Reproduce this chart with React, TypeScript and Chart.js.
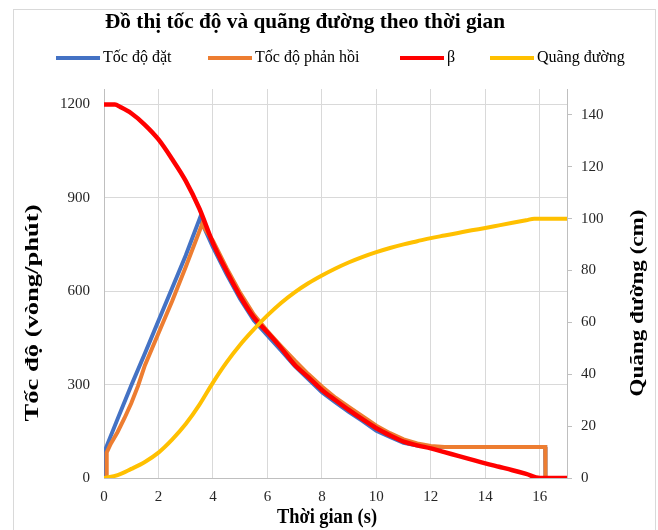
import React, { useEffect, useRef } from 'react';
import { Chart, registerables } from 'chart.js';

Chart.register(...registerables);

const TITLE = 'Đồ thị tốc độ và quãng đường theo thời gian';
const X_TITLE = 'Thời gian (s)';
const Y_TITLE = 'Tốc độ (vòng/phút)';
const Y2_TITLE = 'Quãng đường (cm)';
const SERIES_NAMES = ['Tốc độ đặt', 'Tốc độ phản hồi', 'β', 'Quãng đường'];
const SERIES_COLORS = ['#4472C4', '#ED7D31', '#FF0000', '#FFC000'];

// Tốc độ đặt (vòng/phút)
const setTime = [0, 0.05, 0.5, 1, 1.5, 2, 2.5, 3, 3.52, 4, 4.5, 5, 5.5, 6, 6.5, 7, 7.5, 8, 8.5, 9, 9.5, 10, 10.5, 11, 11.5, 12, 13, 14, 15, 16, 16.2, 16.21];
const setSpeed = [0, 92, 190, 297, 400, 505, 610, 715, 835, 742, 655, 575, 507, 458, 410, 360, 318, 276, 243, 212, 183, 152, 132, 113, 104, 100, 100, 100, 100, 100, 100, 0];

// Tốc độ phản hồi (vòng/phút)
const fbTime = [0, 0.08, 0.1, 0.25, 0.5, 0.75, 1, 1.25, 1.5, 2, 2.5, 3, 3.6, 4, 4.5, 5, 5.5, 6, 6.5, 7, 7.5, 8, 8.5, 9, 9.5, 10, 10.5, 11, 11.5, 12, 12.5, 13, 14, 15, 16, 16.2, 16.21];
const fbSpeed = [0, 0, 82, 110, 148, 192, 240, 296, 362, 465, 568, 678, 815, 762, 675, 595, 525, 472, 424, 378, 334, 294, 258, 228, 198, 168, 144, 124, 111, 103, 100, 100, 100, 100, 100, 100, 0];

// β
const betaTime = [0, 0.4, 0.6, 1, 1.5, 2, 2.5, 3, 3.5, 4, 4.5, 5, 5.5, 6, 6.5, 7, 7.5, 8, 8.5, 9, 9.5, 10, 10.5, 11, 11.5, 12, 12.5, 13, 13.5, 14, 14.5, 15, 15.5, 16, 17];
const betaValue = [1200, 1200, 1192, 1172, 1135, 1088, 1025, 955, 866, 755, 665, 584, 516, 468, 418, 364, 324, 283, 250, 218, 188, 160, 137, 117, 105, 95, 83, 71, 59, 47, 36, 25, 13, 0, 0];

// Quãng đường (cm)
const distTime = [0, 0.5, 1, 1.5, 2, 2.5, 3, 3.5, 4, 4.5, 5, 5.5, 6, 6.5, 7, 7.5, 8, 8.5, 9, 9.5, 10, 10.5, 11, 11.5, 12, 12.5, 13, 13.5, 14, 14.5, 15, 15.5, 15.8, 17];
const distValue = [0, 1.1, 3.5, 6.2, 9.8, 14.8, 20.8, 28.2, 36.8, 44.6, 51.4, 57.3, 62.7, 67.5, 71.6, 75.1, 78.1, 80.8, 83.2, 85.3, 87.1, 88.7, 90.1, 91.3, 92.5, 93.5, 94.5, 95.5, 96.4, 97.4, 98.4, 99.4, 100, 100];

const xTicks = [0, 2, 4, 6, 8, 10, 12, 14, 16];
const leftTicks = [0, 300, 600, 900, 1200];
const rightTicks = [0, 20, 40, 60, 80, 100, 120, 140];

const SERIF = "'Liberation Serif', 'Times New Roman', serif";
const GRID = '#D9D9D9';
const AXIS = '#BFBFBF';
const TICK_COLOR = '#262626';

const pts = (t: number[], v: number[]) => t.map((x, i) => ({ x, y: v[i] }));

function drawText(
  ctx: CanvasRenderingContext2D,
  text: string,
  x: number,
  y: number,
  font: string,
  opts: { targetWidth?: number; rotate?: number; align?: CanvasTextAlign; color?: string } = {}
) {
  ctx.save();
  ctx.font = font;
  const w = ctx.measureText(text).width;
  const sx = opts.targetWidth ? opts.targetWidth / w : 1;
  ctx.translate(x, y);
  if (opts.rotate) ctx.rotate(opts.rotate);
  ctx.scale(sx, 1);
  ctx.textAlign = opts.align || 'center';
  ctx.textBaseline = 'middle';
  ctx.fillStyle = opts.color || '#000';
  ctx.fillText(text, 0, 0);
  ctx.restore();
}

const decor = {
  id: 'decor',
  beforeDraw(chart: any) {
    const ctx = chart.ctx as CanvasRenderingContext2D;
    ctx.save();
    ctx.strokeStyle = GRID;
    ctx.lineWidth = 1;
    ctx.strokeRect(13.5, 9.5, 642, 540);
    ctx.restore();
  },
  afterDraw(chart: any) {
    const ctx = chart.ctx as CanvasRenderingContext2D;
    drawText(ctx, TITLE, 305, 23, `bold 21px ${SERIF}`, { targetWidth: 400 });
    const legendX = [56, 208, 400, 490];
    const legendY = 58;
    SERIES_NAMES.forEach((name, i) => {
      const x = legendX[i];
      ctx.save();
      ctx.strokeStyle = SERIES_COLORS[i];
      ctx.lineWidth = 4;
      ctx.beginPath();
      ctx.moveTo(x, legendY);
      ctx.lineTo(x + 44, legendY);
      ctx.stroke();
      ctx.restore();
      drawText(ctx, name, x + 47, legendY, `16px ${SERIF}`, { align: 'left', color: '#000' });
    });
    drawText(ctx, X_TITLE, 327, 518, `bold 21px ${SERIF}`, { targetWidth: 100 });
    drawText(ctx, Y_TITLE, 33, 313, `bold 18px ${SERIF}`, { targetWidth: 217, rotate: -Math.PI / 2 });
    drawText(ctx, Y2_TITLE, 638, 303, `bold 18px ${SERIF}`, { targetWidth: 187, rotate: -Math.PI / 2 });
  },
};

export default function App() {
  const ref = useRef<HTMLCanvasElement>(null);
  useEffect(() => {
    const canvas = ref.current!;
    const lineBase = { pointRadius: 0, borderWidth: 4, fill: false };
    const chart = new Chart(canvas, {
      type: 'line',
      data: {
        datasets: [
          { ...lineBase, label: SERIES_NAMES[0], data: pts(setTime, setSpeed), borderColor: SERIES_COLORS[0], backgroundColor: SERIES_COLORS[0], yAxisID: 'y', order: 3, tension: 0 },
          { ...lineBase, label: SERIES_NAMES[1], data: pts(fbTime, fbSpeed), borderColor: SERIES_COLORS[1], backgroundColor: SERIES_COLORS[1], yAxisID: 'y', order: 2, tension: 0 },
          { ...lineBase, label: SERIES_NAMES[2], data: pts(betaTime, betaValue), borderColor: SERIES_COLORS[2], backgroundColor: SERIES_COLORS[2], yAxisID: 'y', order: 1, cubicInterpolationMode: 'monotone', borderWidth: 4.5 },
          { ...lineBase, label: SERIES_NAMES[3], data: pts(distTime, distValue), borderColor: SERIES_COLORS[3], backgroundColor: SERIES_COLORS[3], yAxisID: 'y1', order: 0, cubicInterpolationMode: 'monotone' },
        ] as any,
      },
      options: {
        responsive: false,
        animation: false,
        devicePixelRatio: 1,
        layout: { padding: { top: 89, left: 0, right: 0, bottom: 0 } },
        plugins: { legend: { display: false }, title: { display: false }, tooltip: { enabled: false } },
        scales: {
          x: {
            type: 'linear',
            min: 0,
            max: 17,
            afterBuildTicks: (s: any) => { s.ticks = xTicks.map((v) => ({ value: v })); },
            afterFit: (s: any) => { s.height = 52; },
            ticks: { font: { family: SERIF, size: 15 }, color: TICK_COLOR, padding: 10, autoSkip: false, maxRotation: 0, callback: (v: any) => String(v) },
            grid: { color: GRID, lineWidth: 1, drawTicks: false },
            border: { color: AXIS, width: 1 },
          },
          y: {
            type: 'linear',
            position: 'left',
            min: 0,
            max: 1250,
            afterBuildTicks: (s: any) => { s.ticks = leftTicks.map((v) => ({ value: v })); },
            afterFit: (s: any) => { s.width = 104; },
            ticks: { font: { family: SERIF, size: 15 }, color: TICK_COLOR, padding: 14, callback: (v: any) => String(v) },
            grid: { color: GRID, lineWidth: 1, drawTicks: false },
            border: { color: AXIS, width: 1 },
          },
          y1: {
            type: 'linear',
            position: 'right',
            min: 0,
            max: 150,
            afterBuildTicks: (s: any) => { s.ticks = rightTicks.map((v) => ({ value: v })); },
            afterFit: (s: any) => { s.width = 91; },
            ticks: { font: { family: SERIF, size: 15 }, color: TICK_COLOR, padding: 9, callback: (v: any) => String(v) },
            grid: { drawOnChartArea: false, drawTicks: true, tickLength: 5, color: AXIS, tickColor: AXIS },
            border: { color: AXIS, width: 1 },
          },
        },
      } as any,
      plugins: [decor],
    });
    return () => chart.destroy();
  }, []);
  return (
    <div style={{ position: 'absolute', left: 0, top: 0, width: 658, height: 530, background: '#fff' }}>
      <canvas ref={ref} width={658} height={530} style={{ display: 'block', width: 658, height: 530 }} />
    </div>
  );
}
